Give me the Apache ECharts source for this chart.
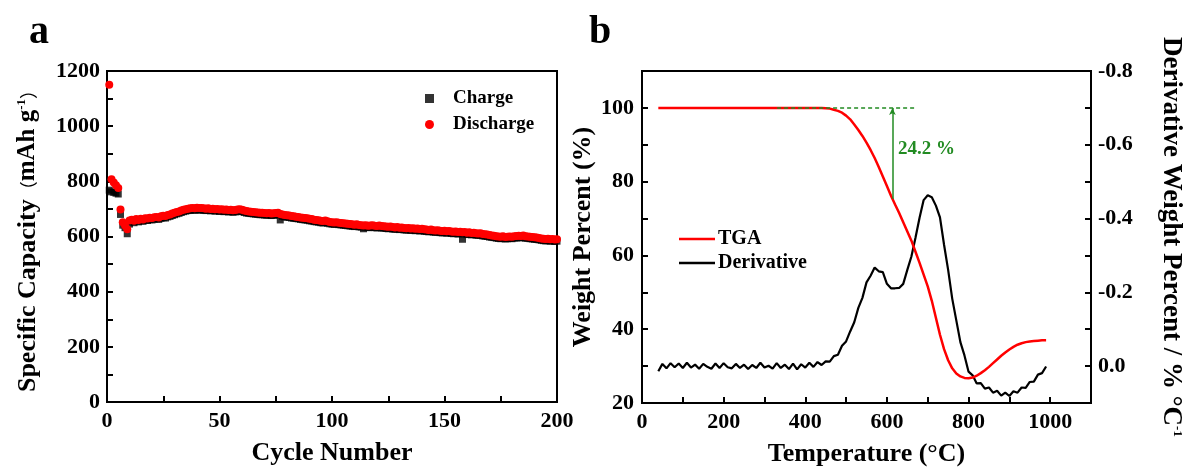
<!DOCTYPE html>
<html>
<head>
<meta charset="utf-8">
<script src="https://cdn.jsdelivr.net/npm/echarts@6/dist/echarts.min.js"></script>
<style>
html, body { margin: 0; background: #fff; }
#main { width: 1186px; height: 472px; }
</style>
</head>
<body>
<div id="main"></div>
<script>
// panel a: cycling, values in mAh/g for cycle 1..200
var charge = [
  768, 762, 760, 757, 754, 680, 641, 632, 610, 645,
  654, 650, 656, 653, 657, 655, 659, 658, 661, 660,
  663, 664, 662, 666, 668, 667, 671, 673, 676, 679,
  682, 684, 687, 690, 692, 694, 695, 696, 695, 697,
  696, 696, 695, 694, 695, 693, 694, 692, 693, 691,
  692, 690, 691, 689, 690, 688, 689, 691, 692, 690,
  687, 685, 684, 683, 682, 681, 680, 679, 679, 678,
  677, 678, 676, 677, 678, 679, 660, 673, 671, 670,
  669, 667, 666, 665, 664, 662, 661, 660, 659, 657,
  656, 654, 653, 652, 650, 649, 651, 648, 646, 645,
  644, 645, 643, 642, 641, 640, 639, 638, 637, 636,
  637, 635, 634, 628, 634, 632, 633, 634, 632, 631,
  633, 631, 630, 629, 628, 629, 627, 626, 627, 625,
  626, 624, 623, 624, 622, 623, 621, 622, 620, 621,
  619, 618, 617, 618, 616, 615, 616, 614, 613, 614,
  612, 613, 611, 610, 611, 609, 610, 590, 609, 607,
  608, 606, 607, 605, 604, 605, 602, 601, 600, 598,
  597, 596, 594, 593, 592, 594, 591, 592, 593, 592,
  594, 595, 596, 595, 597, 594, 593, 592, 591, 590,
  589, 588, 586, 585, 584, 585, 583, 584, 582, 583
];
var discharge = [
  1150, 808, 796, 786, 776, 698, 652, 640, 626, 658,
  661, 657, 663, 660, 664, 662, 666, 665, 668, 667,
  670, 671, 669, 673, 675, 674, 678, 680, 683, 686,
  689, 691, 694, 697, 699, 701, 702, 703, 702, 704,
  703, 703, 702, 701, 702, 700, 701, 699, 700, 698,
  699, 697, 698, 696, 697, 695, 696, 698, 699, 697,
  694, 692, 691, 690, 689, 688, 687, 686, 686, 685,
  684, 685, 683, 684, 685, 686, 682, 680, 678, 677,
  676, 674, 673, 672, 671, 669, 668, 667, 666, 664,
  663, 661, 660, 659, 657, 656, 658, 655, 653, 652,
  651, 652, 650, 649, 648, 647, 646, 645, 644, 643,
  644, 642, 641, 640, 641, 639, 640, 641, 639, 638,
  640, 638, 637, 636, 635, 636, 634, 633, 634, 632,
  633, 631, 630, 631, 629, 630, 628, 629, 627, 628,
  626, 625, 624, 625, 623, 622, 623, 621, 620, 621,
  619, 620, 618, 617, 618, 616, 617, 615, 616, 614,
  615, 613, 614, 612, 611, 612, 609, 608, 607, 605,
  604, 603, 601, 600, 599, 601, 598, 599, 600, 599,
  601, 602, 603, 602, 604, 601, 600, 599, 598, 597,
  596, 595, 593, 592, 591, 592, 590, 591, 589, 590
];

// panel b: TGA
var tempC = [
  40, 50, 60, 70, 80, 90, 100, 110, 120, 130,
  140, 150, 160, 170, 180, 190, 200, 210, 220, 230,
  240, 250, 260, 270, 280, 290, 300, 310, 320, 330,
  340, 350, 360, 370, 380, 390, 400, 410, 420, 430,
  440, 450, 460, 470, 480, 490, 500, 510, 520, 530,
  540, 550, 560, 570, 580, 590, 600, 610, 620, 630,
  640, 650, 660, 670, 680, 690, 700, 710, 720, 730,
  740, 750, 760, 770, 780, 790, 800, 810, 820, 830,
  840, 850, 860, 870, 880, 890, 900, 910, 920, 930,
  940, 950, 960, 970, 980, 990
];
var tga = [
  100, 100, 100, 100, 100, 100, 100, 100, 100, 100,
  100, 100, 100, 100, 100, 100, 100, 100, 100, 100,
  100, 100, 100, 100, 100, 100, 100, 100, 100, 100,
  100, 100, 100, 100, 100, 100, 100, 100, 100, 100,
  100, 99.9, 99.8, 99.5, 99.2, 98.7, 97.9, 96.9, 95.5, 94.0,
  92.4, 90.6, 88.6, 86.4, 84.0, 81.4, 78.8, 76.2, 73.8, 71.5,
  69.0, 66.5, 64.0, 61.0, 58.0, 54.8, 51.6, 47.7, 43.1, 38.5,
  34.6, 31.6, 29.4, 28.0, 27.2, 26.8, 26.7, 26.9, 27.4, 28.1,
  28.9, 29.8, 30.8, 31.8, 32.8, 33.7, 34.5, 35.2, 35.8, 36.2,
  36.5, 36.7, 36.8, 36.9, 37.0, 37.0
];
var deriv = [
  0.014, -0.006, 0.006, -0.008, 0.003, -0.007, 0.005, -0.009, 0.004, -0.004,
  0.007, -0.006, 0.002, 0.007, -0.007, 0.005, -0.008, 0.003, 0.006, -0.006,
  0.005, -0.004, 0.008, -0.003, 0.005, -0.009, 0.004, -0.001, 0.007, -0.008,
  0.005, -0.004, 0.008, -0.007, 0.009, -0.005, 0.004, -0.009, 0.002, -0.011,
  -0.003, -0.013, -0.012, -0.027, -0.031, -0.055, -0.067, -0.094, -0.119, -0.158,
  -0.185, -0.227, -0.245, -0.267, -0.257, -0.255, -0.223, -0.211, -0.211, -0.212,
  -0.223, -0.261, -0.297, -0.348, -0.402, -0.450, -0.463, -0.458, -0.435, -0.403,
  -0.329, -0.261, -0.183, -0.124, -0.065, -0.029, 0.015, 0.025, 0.047, 0.046,
  0.061, 0.058, 0.072, 0.067, 0.080, 0.072, 0.081, 0.068, 0.072, 0.058,
  0.059, 0.043, 0.042, 0.023, 0.019, 0.001
];

// weight-loss step marked in green
var stepTemp = 613.5;
var stepTop = 100;
var stepLow = 75.3;
var stepDashFrom = 331;
var stepDashTo = 667;
var stepText = '24.2 %';

var font = 'Liberation Serif';
var green = '#228b22';

function pairs(xs, ys) {
  var out = [];
  for (var i = 0; i < ys.length; i++) out.push([xs[i], ys[i]]);
  return out;
}
function byCycle(ys) {
  var out = [];
  for (var i = 0; i < ys.length; i++) out.push([i + 1, ys[i]]);
  return out;
}
// show a label only on every second tick (the others are the minor ticks)
function everyOther(step, maxShown, digits) {
  return function (v) {
    var k = Math.round(v / step);
    if (k % 2 !== 0 || v > maxShown + 1e-9) return '';
    if (digits) return Math.abs(v) < 1e-9 ? '0.0' : v.toFixed(digits);
    return String(v);
  };
}

var tickLabel = { color: '#000', fontFamily: font, fontWeight: 'bold', fontSize: 22 };
var titleStyle = { color: '#000', fontFamily: font, fontWeight: 'bold', fontSize: 26 };
var axLine = { show: true, onZero: false, lineStyle: { color: '#000', width: 2 } };
var axTick = { show: true, inside: true, length: 6, lineStyle: { color: '#000', width: 2 } };

var chart = echarts.init(document.getElementById('main'));
var option = {
  animation: false,
  backgroundColor: '#fff',
  title: [
    { text: 'a', left: 24, top: 8, textStyle: { fontFamily: font, fontWeight: 'bold', fontSize: 40, color: '#000' } },
    { text: 'b', left: 584, top: 8, textStyle: { fontFamily: font, fontWeight: 'bold', fontSize: 40, color: '#000' } }
  ],
  grid: [
    { left: 107, right: 629, top: 71, bottom: 70, show: true, borderColor: '#000', borderWidth: 2 },
    { left: 642, right: 95, top: 71, bottom: 69, show: true, borderColor: '#000', borderWidth: 2 }
  ],
  legend: [
    {
      data: ['Charge', 'Discharge'], orient: 'vertical', left: 420, top: 84,
      itemWidth: 9, itemHeight: 9, itemGap: 7,
      textStyle: { color: '#000', fontFamily: font, fontWeight: 'bold', fontSize: 19, padding: [0, 0, 0, 14] }
    },
    {
      data: [{ name: 'TGA', icon: 'rect' }, { name: 'Derivative', icon: 'rect' }],
      orient: 'vertical', left: 674, top: 224,
      itemWidth: 36, itemHeight: 2.5, itemGap: 4,
      textStyle: { color: '#000', fontFamily: font, fontWeight: 'bold', fontSize: 20, padding: [0, 0, 0, -2] }
    }
  ],
  xAxis: [
    {
      gridIndex: 0, type: 'value', min: 0, max: 200, interval: 25,
      name: 'Cycle Number', nameLocation: 'middle', nameGap: 38, nameTextStyle: titleStyle,
      axisLine: axLine, axisTick: axTick, splitLine: { show: false },
      axisLabel: Object.assign({ margin: 8, formatter: everyOther(25, 200) }, tickLabel)
    },
    {
      gridIndex: 1, type: 'value', min: 0, max: 1100, interval: 100,
      name: 'Temperature (°C)', nameLocation: 'middle', nameGap: 38, nameTextStyle: titleStyle,
      axisLine: axLine, axisTick: axTick, splitLine: { show: false },
      axisLabel: Object.assign({ margin: 8, formatter: everyOther(100, 1000) }, tickLabel)
    }
  ],
  yAxis: [
    {
      gridIndex: 0, type: 'value', min: 0, max: 1200, interval: 100,
      name: 'Specific Capacity{p|（}{u|mAh g}{sup|-1}{p|）}', nameLocation: 'middle', nameGap: 66,
      nameTextStyle: Object.assign({}, titleStyle, {
        rich: {
          p: { fontFamily: 'Noto Sans CJK SC', fontWeight: 'normal', fontSize: 18, color: '#000' },
          u: { fontFamily: font, fontWeight: 'bold', fontSize: 25, color: '#000' },
          sup: { fontFamily: font, fontWeight: 'bold', fontSize: 13, color: '#000', verticalAlign: 'top', padding: [0, 0, 12, 0] }
        }
      }),
      axisLine: axLine, axisTick: axTick, splitLine: { show: false },
      axisLabel: Object.assign({ margin: 7, formatter: everyOther(100, 1200) }, tickLabel)
    },
    {
      gridIndex: 1, type: 'value', min: 20, max: 110, interval: 10,
      name: 'Weight Percent (%)', nameLocation: 'middle', nameGap: 46, nameTextStyle: titleStyle,
      axisLine: axLine, axisTick: axTick, splitLine: { show: false },
      axisLabel: Object.assign({ margin: 8, formatter: everyOther(10, 100) }, tickLabel)
    },
    {
      gridIndex: 1, type: 'value', position: 'right', inverse: true, min: -0.8, max: 0.1, interval: 0.1,
      name: 'Derivative Weight Percent / % °C{sup|-1}', nameLocation: 'middle', nameGap: 66, nameRotate: -90,
      nameTextStyle: Object.assign({}, titleStyle, {
        fontSize: 27,
        rich: {
          sup: { fontFamily: font, fontWeight: 'bold', fontSize: 13, color: '#000', verticalAlign: 'top', padding: [0, 0, 12, 0] }
        }
      }),
      axisLine: axLine, axisTick: axTick, splitLine: { show: false },
      axisLabel: Object.assign({ margin: 7, formatter: everyOther(0.1, 0.0, 1) }, tickLabel)
    }
  ],
  series: [
    {
      name: 'Charge', type: 'scatter', xAxisIndex: 0, yAxisIndex: 0,
      symbol: 'rect', symbolSize: 7, itemStyle: { color: '#000' },
      data: byCycle(charge)
    },
    {
      name: 'Discharge', type: 'scatter', xAxisIndex: 0, yAxisIndex: 0,
      symbol: 'circle', symbolSize: 8, itemStyle: { color: '#ff0000', opacity: 1 },
      data: byCycle(discharge)
    },
    {
      name: 'Derivative', type: 'line', xAxisIndex: 1, yAxisIndex: 2,
      showSymbol: false, symbol: 'none', lineStyle: { color: '#000', width: 2.2 }, itemStyle: { color: '#000' },
      data: pairs(tempC, deriv)
    },
    {
      name: 'TGA', type: 'line', xAxisIndex: 1, yAxisIndex: 1, z: 3,
      showSymbol: false, symbol: 'none', lineStyle: { color: '#ff0000', width: 2.5 }, itemStyle: { color: '#ff0000' },
      data: pairs(tempC, tga),
      markLine: {
        silent: true, animation: false, label: { show: false },
        data: [
          [
            { coord: [stepDashFrom, stepTop], symbol: 'none', lineStyle: { color: green, width: 1.5, type: [4, 3] } },
            { coord: [stepDashTo, stepTop], symbol: 'none' }
          ],
          [
            { coord: [stepTemp, stepLow], symbol: 'none', lineStyle: { color: green, width: 1.5, type: 'solid' } },
            { coord: [stepTemp, stepTop], symbol: 'arrow', symbolSize: [5, 7] }
          ]
        ]
      },
      markPoint: {
        silent: true, symbol: 'circle', symbolSize: 0,
        data: [{ coord: [627, 88.7], value: stepText }],
        label: {
          show: true, position: 'right', distance: 0, formatter: stepText,
          color: green, fontFamily: font, fontWeight: 'bold', fontSize: 19
        }
      }
    }
  ]
};
chart.setOption(option);
</script>
</body>
</html>
